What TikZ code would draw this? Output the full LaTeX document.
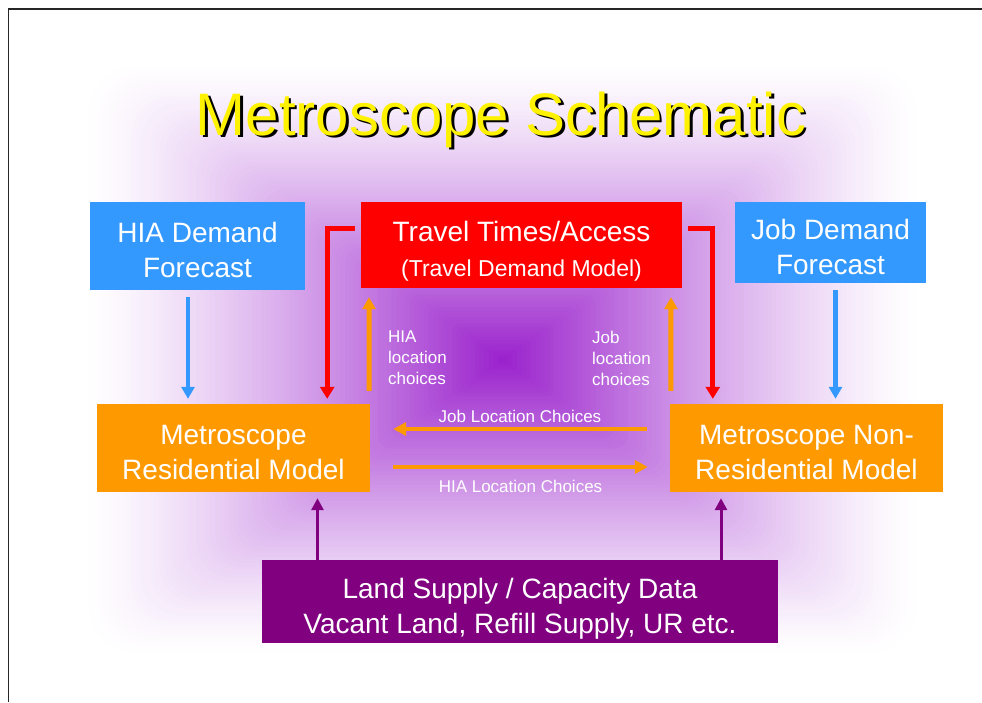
\documentclass[tikz,border=0pt]{standalone}
\usepackage{fontspec}
\setmainfont{Liberation Sans}
\usepackage{tikz}
\usetikzlibrary{arrows.meta, positioning}
\definecolor{forecastblue}{RGB}{51,153,255}
\definecolor{travelred}{RGB}{255,0,0}
\definecolor{modelorange}{RGB}{255,153,0}
\definecolor{landpurple}{RGB}{128,0,128}
\definecolor{glow}{RGB}{155,35,205}

\begin{document}
\begin{tikzpicture}[x=1pt, y=-1pt,
  box/.style={rectangle, inner sep=0pt, text=white, font=\fontsize{28}{35}\selectfont, align=center,
    text height=63pt, text depth=0pt},
  lbl/.style={inner sep=0pt, text=white, font=\fontsize{17}{21}\selectfont},
  heading/.style={inner sep=0pt, anchor=base, font=\fontsize{60}{60}\selectfont},
  bluearr/.style={-{Triangle[length=12pt, width=13pt]}, line width=4.5pt, forecastblue},
  redarr/.style={-{Triangle[length=12pt, width=14pt]}, line width=5pt, travelred},
  uparr/.style={-{Triangle[length=12pt, width=13pt]}, line width=5pt, modelorange},
  flowarr/.style={-{Triangle[length=13pt, width=13pt]}, line width=3.5pt, modelorange},
  landarr/.style={-{Triangle[length=12pt, width=12pt]}, line width=3pt, landpurple}
]
\useasboundingbox (0,0) rectangle (982,702);
\draw[line width=1.2pt, black!85] (8.5,702) -- (8.5,9) -- (982,9);

\foreach \i in {0,...,89}{
  \pgfmathsetmacro{\s}{1-\i/90}
  \pgfmathsetmacro{\p}{100*(\i/89)^1.3}
  \fill[glow!\p!white, rounded corners={45*\s}] ({503-418*\s},{360-297*\s}) rectangle ({503+417*\s},{360+295*\s});
}

\node[heading, text=black] (titleshadow) at (503.5,137.5) {Metroscope Schematic};
\node[heading, text=yellow] (title) at (501,135) {Metroscope Schematic};

\node[box, fill=forecastblue, minimum width=215pt, minimum height=88pt] (hia) at (197.5,246) {HIA Demand\\Forecast};
\node[box, fill=travelred, minimum width=321pt, minimum height=86pt] (travel) at (521.5,245) {Travel Times/Access\\{\fontsize{23}{28}\selectfont (Travel Demand Model)}};
\node[box, fill=forecastblue, minimum width=191pt, minimum height=81pt] (job) at (830.5,242.5) {Job Demand\\Forecast};
\node[box, fill=modelorange, minimum width=273pt, minimum height=88pt] (res) at (233.5,448) {Metroscope\\Residential Model};
\node[box, fill=modelorange, minimum width=273pt, minimum height=88pt] (nonres) at (806.5,448) {Metroscope Non-\\Residential Model};
\node[box, fill=landpurple, minimum width=516pt, minimum height=83pt] (land) at (520,601.5) {Land Supply / Capacity Data\\Vacant Land, Refill Supply, UR etc.};

\node[lbl, anchor=north west, align=left] (hialoc) at (388,331) {HIA\\location\\choices};
\node[lbl, anchor=north west, align=left] (jobloc) at (592,331) {Job\\location\\choices};

\draw[bluearr] ([xshift=-9.5pt,yshift=-7pt]hia.south) -- ([xshift=-45.5pt,yshift=5pt]res.north);
\draw[bluearr] ([xshift=5pt,yshift=-7pt]job.south) -- ([xshift=29pt,yshift=5pt]nonres.north);

\draw[redarr] ([xshift=-6pt,yshift=17pt]travel.west) -| ([xshift=-43pt,yshift=5pt]res.north east);
\draw[redarr] ([xshift=6pt,yshift=17pt]travel.east) -| ([xshift=43pt,yshift=5pt]nonres.north west);

\draw[uparr] ([xshift=-1pt,yshift=13pt]res.north east) -- ([xshift=-152.5pt,yshift=-9pt]travel.south);
\draw[uparr] ([xshift=1pt,yshift=13pt]nonres.north west) -- ([xshift=149.5pt,yshift=-9pt]travel.south);

\draw[flowarr] ([xshift=-23pt,yshift=19pt]nonres.west) -- ([xshift=23pt,yshift=19pt]res.east)
  node[lbl, midway, above=5pt] (joblbl) {Job Location Choices};
\draw[flowarr] ([xshift=23pt,yshift=-19pt]res.east) -- ([xshift=-22pt,yshift=-19pt]nonres.west)
  node[lbl, midway, below=11pt] (hialbl) {HIA Location Choices};

\draw[landarr] ([xshift=-202.5pt]land.north) -- ([xshift=84pt,yshift=-6pt]res.south);
\draw[landarr] ([xshift=201pt]land.north) -- ([xshift=-85.5pt,yshift=-6pt]nonres.south);
\end{tikzpicture}
\end{document}
